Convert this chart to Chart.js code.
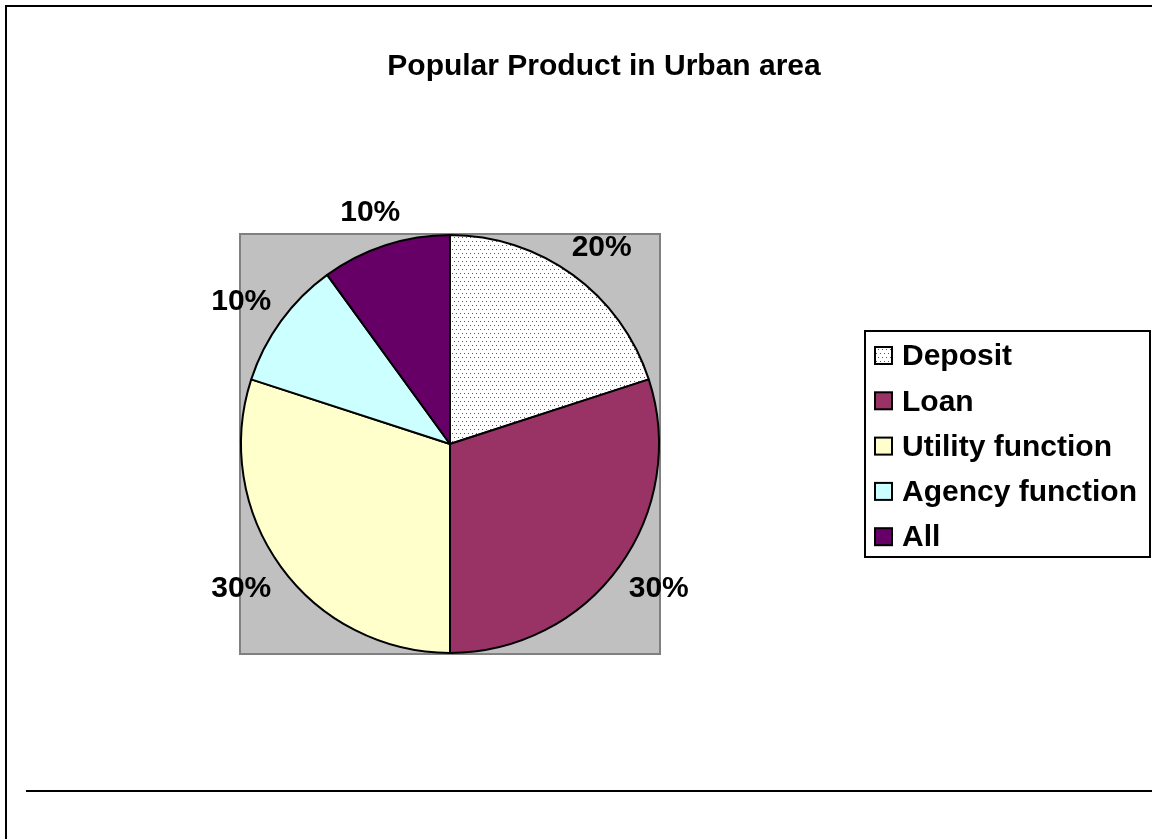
<!DOCTYPE html>
<html>
<head>
<meta charset="utf-8">
<title>Popular Product in Urban area</title>
<script src="https://cdn.jsdelivr.net/npm/chart.js@4.4.1/dist/chart.umd.min.js"></script>
<style>
  html, body { margin: 0; padding: 0; background: #fff; }
  #wrap { width: 1152px; height: 839px; position: relative; }
</style>
</head>
<body>
<div id="wrap"><canvas id="productChart" width="1152" height="839"></canvas></div>
<script>
// Product shares (percent)
const categories = ['Deposit', 'Loan', 'Utility function', 'Agency function', 'All'];
const shares = [20, 30, 30, 10, 10];
const shareLabels = ['20%', '30%', '30%', '10%', '10%'];
const chartTitle = 'Popular Product in Urban area';

const FONT = 'bold 30px "Liberation Sans", Arial, sans-serif';

// Dotted fill used for the Deposit slice
function dotPattern() {
    const tile = document.createElement('canvas');
    tile.width = 4;
    tile.height = 8;
    const t = tile.getContext('2d');
    t.fillStyle = '#ffffff';
    t.fillRect(0, 0, 4, 8);
    t.fillStyle = '#5a5a5a';
    t.fillRect(0, 1, 1, 1);
    t.fillRect(2, 5, 1, 1);
    return t.createPattern(tile, 'repeat');
}

const ctx = document.getElementById('productChart');
const sliceColors = [dotPattern(), '#993366', '#FFFFCC', '#CCFFFF', '#660066'];

// Frame, plot area and title behind the pie
const backdrop = {
    id: 'backdrop',
    beforeDraw(chart) {
        const c = chart.ctx;
        const a = chart.chartArea;
        c.save();
        c.fillStyle = '#ffffff';
        c.fillRect(0, 0, chart.width, chart.height);

        // outer frame
        c.strokeStyle = '#000';
        c.lineWidth = 2;
        c.beginPath();
        c.moveTo(6, chart.height);
        c.lineTo(6, 6);
        c.lineTo(chart.width, 6);
        c.stroke();
        c.beginPath();
        c.moveTo(26, 791);
        c.lineTo(chart.width, 791);
        c.stroke();

        // grey plot area
        c.fillStyle = '#C0C0C0';
        c.fillRect(a.left, a.top, a.right - a.left, a.bottom - a.top);
        c.strokeStyle = '#808080';
        c.lineWidth = 2;
        c.strokeRect(a.left, a.top, a.right - a.left, a.bottom - a.top);

        // title
        c.fillStyle = '#000';
        c.font = FONT;
        c.textAlign = 'center';
        c.textBaseline = 'middle';
        c.fillText(chartTitle, 604, 67);
        c.restore();
    }
};

// Percent labels outside each slice
const sliceLabels = {
    id: 'sliceLabels',
    afterDatasetsDraw(chart) {
        const c = chart.ctx;
        const meta = chart.getDatasetMeta(0);
        c.save();
        c.fillStyle = '#000';
        c.font = FONT;
        c.textAlign = 'center';
        c.textBaseline = 'middle';
        meta.data.forEach((arc, i) => {
            const p = arc.getProps(['x', 'y', 'startAngle', 'endAngle', 'outerRadius'], true);
            const mid = (p.startAngle + p.endAngle) / 2;
            const lx = p.x + Math.cos(mid) * (p.outerRadius + 49);
            const ly = p.y + Math.sin(mid) * (p.outerRadius + 35);
            c.fillText(shareLabels[i], lx, ly + 1);
        });
        c.restore();
    }
};

// Boxed legend on the right
const boxLegend = {
    id: 'boxLegend',
    afterDraw(chart) {
        const c = chart.ctx;
        const left = 865, top = 331, right = 1150, bottom = 557;
        c.save();
        c.fillStyle = '#fff';
        c.fillRect(left, top, right - left, bottom - top);
        c.strokeStyle = '#000';
        c.lineWidth = 2;
        c.strokeRect(left, top, right - left, bottom - top);

        c.font = FONT;
        c.textAlign = 'left';
        c.textBaseline = 'middle';
        categories.forEach((name, i) => {
            const cy = 356 + i * 45.3;
            c.fillStyle = sliceColors[i];
            c.fillRect(875, cy - 9, 17, 17);
            c.strokeStyle = '#000';
            c.lineWidth = 2;
            c.strokeRect(875, cy - 9, 17, 17);
            c.fillStyle = '#000';
            c.fillText(name, 902, cy + 1);
        });
        c.restore();
    }
};

new Chart(ctx, {
    type: 'pie',
    data: {
        labels: categories,
        datasets: [{
            data: shares,
            backgroundColor: sliceColors,
            borderColor: '#000',
            borderWidth: 2,
            hoverOffset: 0
        }]
    },
    options: {
        responsive: false,
        animation: false,
        layout: {
            padding: { left: 240, top: 234, right: 492, bottom: 185 }
        },
        plugins: {
            legend: { display: false },
            title: { display: false },
            tooltip: { enabled: false }
        }
    },
    plugins: [backdrop, sliceLabels, boxLegend]
});
</script>
</body>
</html>
